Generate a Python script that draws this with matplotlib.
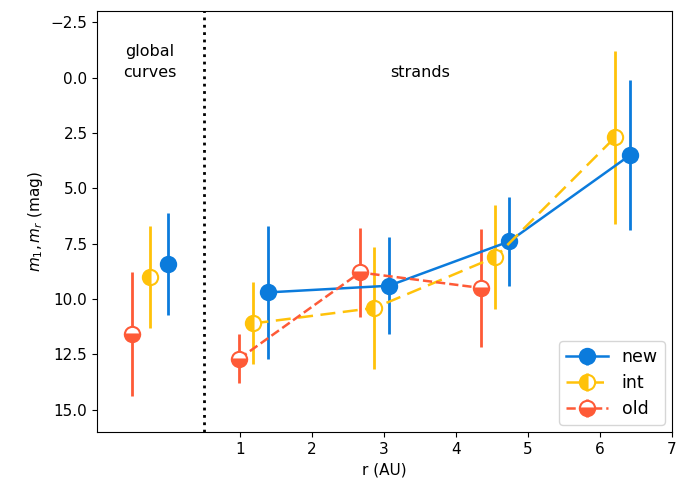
import numpy as np
import matplotlib.pyplot as plt

# global curves (plotted left of the dotted line)
glob_x = [-0.5, -0.25, 0.0]
glob_m = [11.6, 9.0, 8.4]
glob_err = [2.8, 2.3, 2.3]

# strands
new_r = [1.39, 3.07, 4.74, 6.42]
new_m = [9.7, 9.4, 7.4, 3.5]
new_err = [3.0, 2.2, 2.0, 3.4]

int_r = [1.19, 2.87, 4.55, 6.21]
int_m = [11.1, 10.4, 8.1, 2.7]
int_err = [1.85, 2.75, 2.35, 3.9]

old_r = [0.99, 2.67, 4.35]
old_m = [12.7, 8.8, 9.5]
old_err = [1.1, 2.0, 2.65]

c_new = "#0b7bdc"
c_int = "#ffc20a"
c_old = "#fe5a37"

fig = plt.figure(figsize=(6.8, 4.88), dpi=100)
ax = fig.add_axes([0.143, 0.115, 0.845, 0.862])

mk = dict(marker="o", markersize=11, mew=1.5, markerfacecoloralt="white",
          elinewidth=2, capsize=0, lw=1.8)

# global points
ax.errorbar(glob_x[0], glob_m[0], yerr=glob_err[0], color=c_old, mec=c_old,
            fillstyle="bottom", **mk)
ax.errorbar(glob_x[1], glob_m[1], yerr=glob_err[1], color=c_int, mec=c_int,
            fillstyle="left", **mk)
ax.errorbar(glob_x[2], glob_m[2], yerr=glob_err[2], color=c_new, mec=c_new,
            fillstyle="full", **mk)

# strand series
ax.errorbar(new_r, new_m, yerr=new_err, color=c_new, mec=c_new,
            fillstyle="full", ls="-", label="new", **mk)
ax.errorbar(int_r, int_m, yerr=int_err, color=c_int, mec=c_int,
            fillstyle="left", ls=(0, (6, 3)), label="int", **mk)
ax.errorbar(old_r, old_m, yerr=old_err, color=c_old, mec=c_old,
            fillstyle="bottom", ls="--", label="old", **mk)

ax.axvline(0.5, color="black", ls=":", lw=2)

ax.text(-0.25, -0.7, "global\ncurves", ha="center", va="center", fontsize=11.5,
        linespacing=1.5)
ax.text(3.5, -0.25, "strands", ha="center", va="center", fontsize=11.5)

ax.set_xlim(-0.98, 7)
ax.set_ylim(16, -3)
ax.set_xticks([1, 2, 3, 4, 5, 6, 7])
ax.set_yticks([-2.5, 0, 2.5, 5, 7.5, 10, 12.5, 15])
ax.tick_params(labelsize=11)
ax.set_xlabel("r (AU)", fontsize=11)
ax.set_ylabel("$m_1, m_r$ (mag)", fontsize=11)
ax.legend(loc="lower right", fontsize=12.5, handlelength=2.4, labelspacing=0.45,
          borderaxespad=0.4)

fig.savefig("out.png", dpi=100)
